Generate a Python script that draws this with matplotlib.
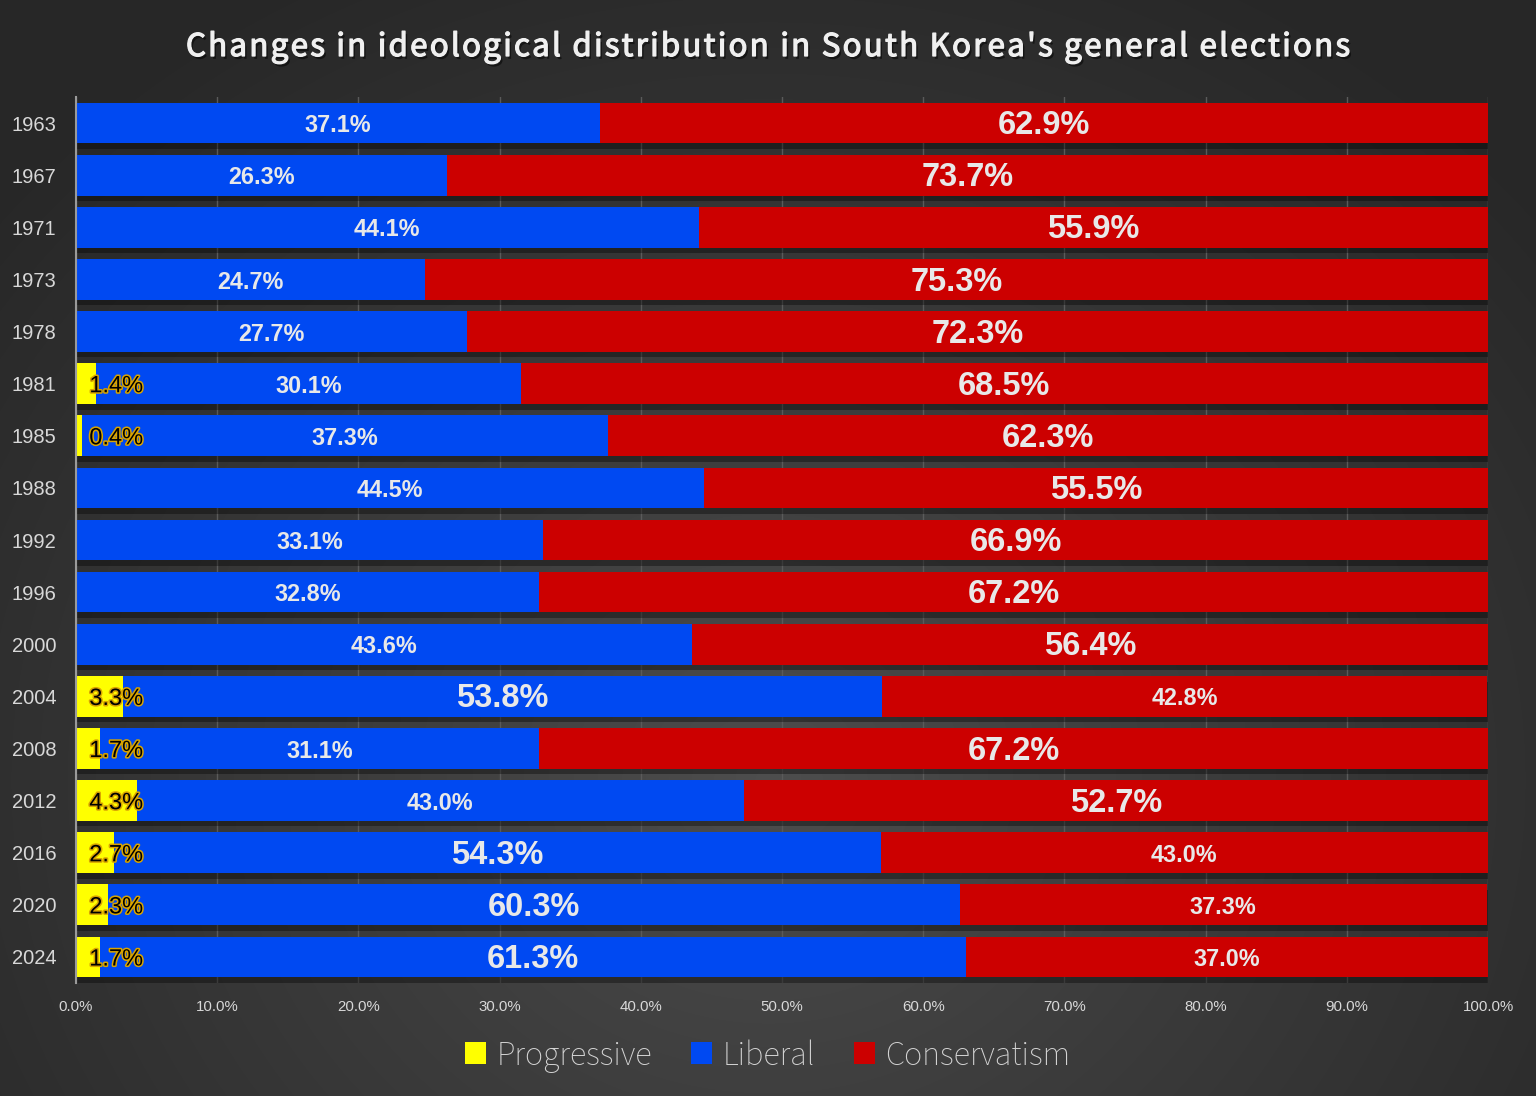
import numpy as np
import matplotlib
matplotlib.use("Agg")
import matplotlib.pyplot as plt
import matplotlib.patheffects as pe
from matplotlib import font_manager
from matplotlib.ticker import FuncFormatter

# data
years = ["1963", "1967", "1971", "1973", "1978", "1981", "1985", "1988",
         "1992", "1996", "2000", "2004", "2008", "2012", "2016", "2020", "2024"]
progressive = [0, 0, 0, 0, 0, 1.4, 0.4, 0, 0, 0, 0, 3.3, 1.7, 4.3, 2.7, 2.3, 1.7]
liberal = [37.1, 26.3, 44.1, 24.7, 27.7, 30.1, 37.3, 44.5, 33.1, 32.8, 43.6,
           53.8, 31.1, 43.0, 54.3, 60.3, 61.3]
conservatism = [62.9, 73.7, 55.9, 75.3, 72.3, 68.5, 62.3, 55.5, 66.9, 67.2, 56.4,
                42.8, 67.2, 52.7, 43.0, 37.3, 37.0]
series_names = ["Progressive", "Liberal", "Conservatism"]
title = "Changes in ideological distribution in South Korea's general elections"

YELLOW = "#ffff00"
BLUE = "#0049f2"
RED = "#cc0000"
LABEL = "#e8e8e8"


def find_face(families, wmin, wmax):
    """first installed face of the given families inside a weight range (not condensed)"""
    for fam in families:
        for f in font_manager.fontManager.ttflist:
            w = f.weight if isinstance(f.weight, int) else 400
            bad = any(k in f.fname for k in ("Condensed", "Narrow", "Cond", "SemiCond"))
            if f.name == fam and wmin <= w <= wmax and f.style == "normal" \
                    and f.stretch == "normal" and not bad:
                return f.fname
    return None


light_font = find_face(["Noto Sans CJK KR", "Source Sans Pro", "Source Sans 3", "Open Sans",
                        "Lato", "Roboto", "Inter", "Noto Sans"], 200, 350)
if light_font:
    legend_prop = font_manager.FontProperties(fname=light_font, size=24.5)
else:
    legend_prop = font_manager.FontProperties(family="Noto Sans CJK KR", size=24.5)

medium_font = find_face(["Noto Sans CJK KR"], 450, 650)

W, H = 1536, 1096
fig = plt.figure(figsize=(W / 100, H / 100), dpi=100)

# radial background
bg = fig.add_axes([0, 0, 1, 1], zorder=-10)
yy, xx = np.mgrid[0:H, 0:W]
r = np.sqrt((xx - 768) ** 2 + ((yy - 780) / 0.9) ** 2)
t = np.clip(r / 1000, 0, 1)
shade = 0.305 - 0.15 * t ** 0.9
bg.imshow(np.dstack([shade] * 3), aspect="auto", extent=[0, 1, 0, 1])
bg.axis("off")

ax = fig.add_axes([76 / W, 1 - 983 / H, (1488 - 76) / W, (983 - 97) / H])
ax.set_facecolor("none")

y = np.arange(len(years))
prog = np.array(progressive)
lib = np.array(liberal)
con = np.array(conservatism)
h = 0.78
shadow = [pe.SimplePatchShadow(offset=(1, -4), shadow_rgbFace="black", alpha=0.35), pe.Normal()]

b1 = ax.barh(y, prog, height=h, color=YELLOW, label=series_names[0], zorder=3)
b2 = ax.barh(y, lib, left=prog, height=h, color=BLUE, label=series_names[1], zorder=3)
b3 = ax.barh(y, con, left=prog + lib, height=h, color=RED, label=series_names[2], zorder=3)
for bars in (b1, b2, b3):
    for p in bars:
        p.set_path_effects(shadow)

ax.set_xlim(0, 100)
ax.set_ylim(len(years) - 0.5, -0.5)
ax.set_xticks(np.arange(0, 101, 10))
ax.xaxis.set_major_formatter(FuncFormatter(lambda v, _: f"{v:.1f}%"))
ax.set_yticks(y)
ax.set_yticklabels(years)
ax.tick_params(axis="y", length=0, pad=14, labelsize=14.5, labelcolor="#d8d8d8")
ax.tick_params(axis="x", length=0, pad=12, labelsize=10.8, labelcolor="#d8d8d8")
for lbl in ax.get_xticklabels() + ax.get_yticklabels():
    lbl.set_fontfamily("Liberation Sans")
ax.grid(axis="x", color="#5a5a5a", lw=1, zorder=0)
for s in ["top", "right", "bottom"]:
    ax.spines[s].set_visible(False)
ax.spines["left"].set_color("#9a9a9a")
ax.spines["left"].set_linewidth(1.5)
ax.spines["left"].set_zorder(5)

# value labels
dy = 0.05
for i in range(len(years)):
    big_lib = lib[i] >= con[i]
    ax.text(prog[i] + lib[i] / 2, y[i] + dy, f"{lib[i]:.1f}%", ha="center", va="center",
            fontsize=23.5 if big_lib else 16.8, fontweight="bold", color=LABEL,
            family="Liberation Sans", zorder=6)
    ax.text(prog[i] + lib[i] + con[i] / 2, y[i] + dy, f"{con[i]:.1f}%", ha="center", va="center",
            fontsize=16.8 if big_lib else 23.5, fontweight="bold", color=LABEL,
            family="Liberation Sans", zorder=6)
    if prog[i] > 0:
        ax.text(2.85, y[i] + dy, f"{prog[i]:.1f}%", ha="center", va="center", fontsize=17,
                color="black", family="Liberation Sans", zorder=6,
                path_effects=[pe.withStroke(linewidth=2.2, foreground="#d9a400")])

# title with letter spacing
fig.canvas.draw()
renderer = fig.canvas.get_renderer()
TITLE_COL = "#f0f0f0"
if medium_font:
    tkw = dict(fontproperties=font_manager.FontProperties(fname=medium_font, size=22.5),
               color=TITLE_COL)
    t_fx = [pe.SimplePatchShadow(offset=(1.5, -2), shadow_rgbFace="black", alpha=0.5), pe.Normal()]
else:
    tkw = dict(fontsize=22.5, family=["Noto Sans CJK KR", "DejaVu Sans"], color=TITLE_COL)
    t_fx = [pe.SimplePatchShadow(offset=(1.5, -2), shadow_rgbFace="black", alpha=0.5),
            pe.withStroke(linewidth=0.9, foreground=TITLE_COL)]


def text_w(s):
    tt = fig.text(0, 0, s + "|", **tkw)
    w = tt.get_window_extent(renderer).width
    tt.remove()
    return w


bar_w = text_w("")
plain = [text_w(title[:i]) - bar_w for i in range(len(title) + 1)]
target = 1164
spacing = (target - plain[-1]) / (len(title) - 1)
offs = [plain[i] + i * spacing for i in range(len(title) + 1)]
x0 = (W - target) / 2
for i, ch in enumerate(title):
    if ch == " ":
        continue
    fig.text((x0 + offs[i]) / W, 1 - 47 / H, ch, ha="left", va="center", **tkw,
             path_effects=t_fx)

leg = fig.legend(handles=[b1, b2, b3], labels=series_names, loc="center",
                 bbox_to_anchor=(0.5, 1 - 1056 / H), ncol=3, frameon=False,
                 handlelength=0.6, handleheight=0.6, handletextpad=0.32, columnspacing=1.15,
                 prop=legend_prop)
for txt in leg.get_texts():
    txt.set_color("#d4d4d4")
for hnd in leg.legend_handles:
    hnd.set_path_effects([])

fig.savefig("out.png", dpi=100)
